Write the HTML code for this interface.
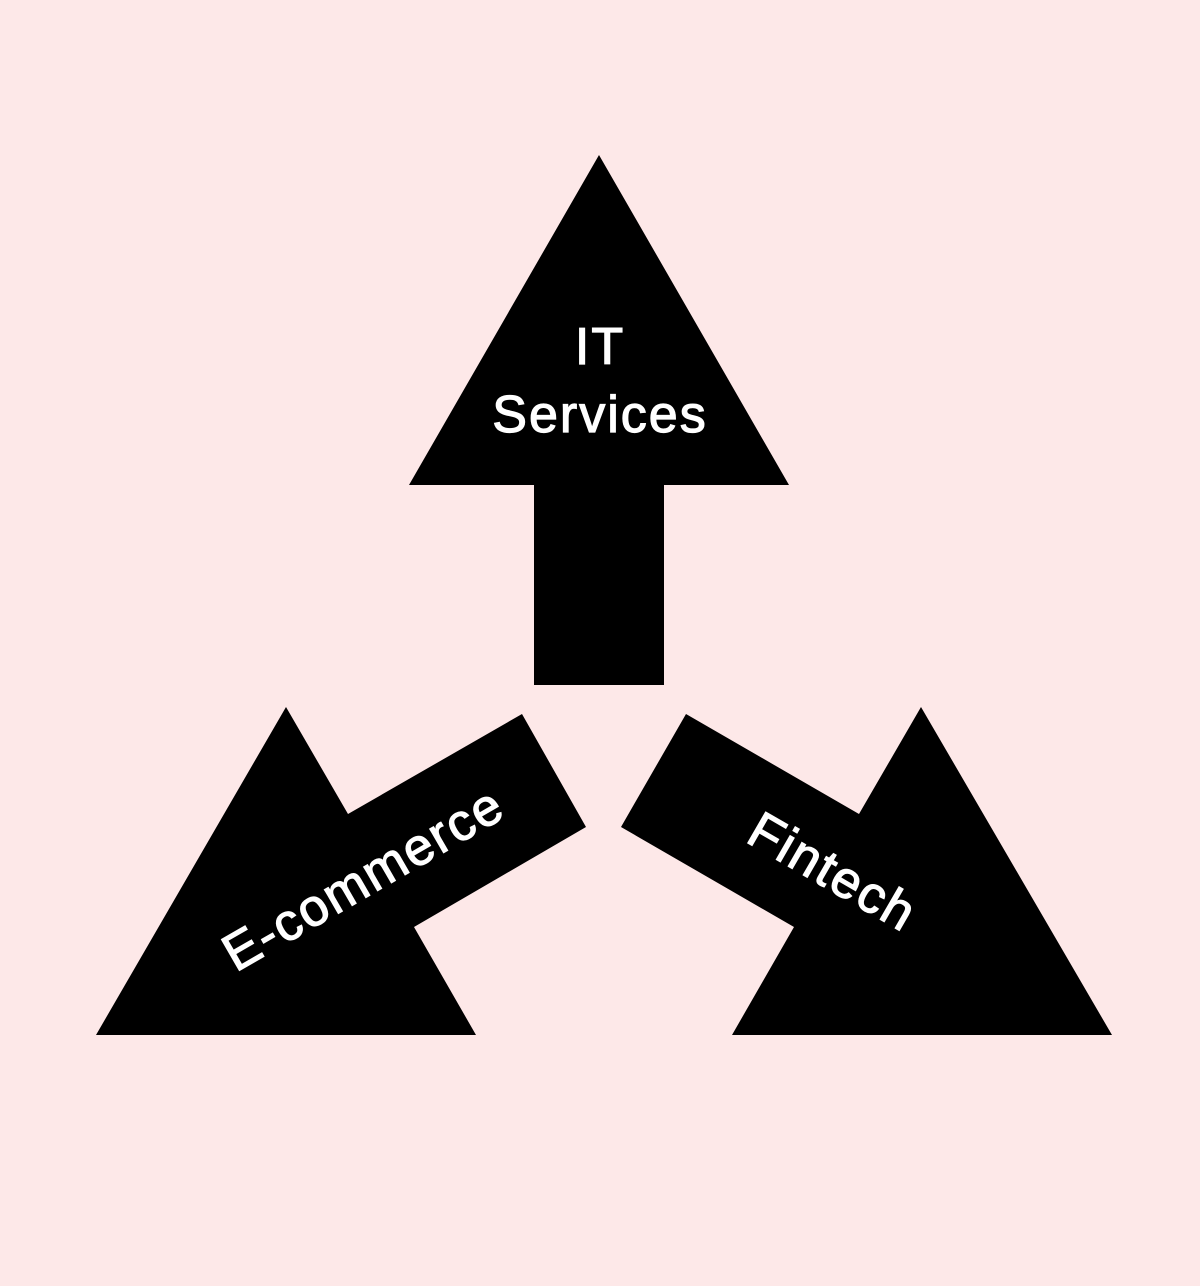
<!DOCTYPE html>
<html><head><meta charset="utf-8"><style>
html,body{margin:0;padding:0;background:#fde8e8;}
svg{display:block}
text{font-family:"Liberation Sans",sans-serif;fill:#fff;stroke:#fff;stroke-width:1.2px;font-size:52px;text-anchor:middle;letter-spacing:2px}
</style></head><body>
<svg width="1200" height="1286" viewBox="0 0 1200 1286">
<rect width="1200" height="1286" fill="#fde8e8"/>
<polygon points="599,155 789,485 664,485 664,685 534,685 534,485 409,485" fill="#000"/>
<polygon points="286,707 348,814 522,714 586,827 414,927 476,1035 96,1035" fill="#000"/>
<polygon points="921,707 859,814 686,714 621,827 794,927 732,1035 1112,1035" fill="#000"/>
<text x="600" y="364">IT</text>
<text x="600" y="432">Services</text>
<text transform="translate(372,894) rotate(-30)" x="0" y="0">E-commerce</text>
<text transform="translate(824,887) rotate(30)" x="0" y="0">Fintech</text>
</svg>
</body></html>
